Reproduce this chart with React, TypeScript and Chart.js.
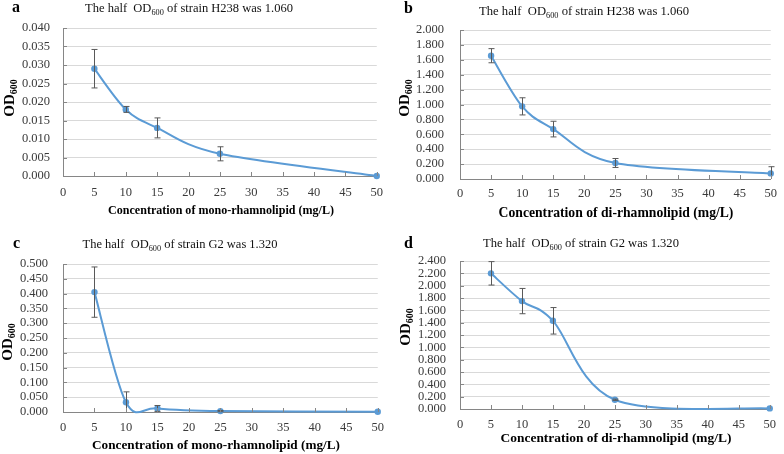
import React, { useEffect, useRef } from 'react';
import { Chart, registerables } from 'chart.js';

Chart.register(...registerables);

// ---------------- data ----------------
const concentrations = [5, 10, 15, 25, 50];

const monoH238 = [0.029, 0.018, 0.013, 0.006, 0.0];
const monoH238Err = [0.0052, 0.0008, 0.0027, 0.0019, 0];
const diH238 = [1.655, 0.975, 0.67, 0.215, 0.075];
const diH238Err = [0.095, 0.115, 0.105, 0.06, 0.09];
const monoG2 = [0.405, 0.033, 0.012, 0.003, 0.001];
const monoG2Err = [0.085, 0.035, 0.01, 0.002, 0];
const diG2 = [2.2, 1.75, 1.43, 0.15, 0.01];
const diG2Err = [0.19, 0.205, 0.215, 0.01, 0];

const panelLetters = ['a', 'b', 'c', 'd'];
const strains = ['H238', 'H238', 'G2', 'G2'];
const halfValues = ['1.060', '1.060', '1.320', '1.320'];
const xAxisTitles = [
  'Concentration of mono-rhamnolipid (mg/L)',
  'Concentration of di-rhamnolipid (mg/L)',
  'Concentration of mono-rhamnolipid (mg/L)',
  'Concentration of di-rhamnolipid (mg/L)',
];
const yAxisTitleMain = 'OD';
const yAxisTitleSub = '600';
const yAxisMax = [0.04, 2.0, 0.5, 2.4];
const yAxisStep = [0.005, 0.2, 0.05, 0.2];
const yTickDecimals = 3;
const xAxisMin = 0;
const xAxisMax = 50;
const xAxisStep = 5;

const seriesValues = [monoH238, diH238, monoG2, diG2];
const seriesErrors = [monoH238Err, diH238Err, monoG2Err, diG2Err];

// ---------------- layout / style ----------------
const W = 392;
const H = 227;
const FONT = "'Liberation Serif', 'Times New Roman', serif";
const LINE_COLOR = '#5b9bd5';
const AXIS_COLOR = '#868686';
const GRID_COLOR = '#d9d9d9';
const TICK_COLOR = '#3a3a3a';
const ERR_COLOR = '#595959';

type Lay = {
  left: number; right: number; top: number; bottom: number;
  yPad: number; xPad: number;
  letter: [number, number];
  title: [number, number, number];
  xTitle: [number, number, number];
  yTitle: [number, number];
};

const LAYOUT: Lay[] = [
  { left: 63, right: 378, top: 28, bottom: 176, yPad: 13, xPad: 9, letter: [12, 8], title: [189, 8, 208], xTitle: [221, 210, 226], yTitle: [9, 98] },
  { left: 68, right: 382, top: 30, bottom: 179, yPad: 16, xPad: 7, letter: [12, 9], title: [192, 11, 210], xTitle: [224, 212, 235], yTitle: [12, 98] },
  { left: 63, right: 379, top: 37, bottom: 185, yPad: 15, xPad: 8, letter: [13, 17], title: [180, 17, 195], xTitle: [216, 218, 248], yTitle: [7, 115] },
  { left: 68, right: 383, top: 34, bottom: 182, yPad: 14, xPad: 8, letter: [12, 17], title: [189, 16, 196], xTitle: [224, 211, 231], yTitle: [13, 100] },
];

type Part = { t: string; sub?: boolean };

function richWidth(ctx: CanvasRenderingContext2D, parts: Part[], size: number, weight: string) {
  let w = 0;
  for (const p of parts) {
    ctx.font = `${weight} ${p.sub ? size * 0.66 : size}px ${FONT}`;
    w += ctx.measureText(p.t).width;
  }
  return w;
}

function drawRich(
  ctx: CanvasRenderingContext2D, parts: Part[], x: number, y: number,
  size: number, weight: string, color: string,
) {
  const w = richWidth(ctx, parts, size, weight);
  let cx = x - w / 2;
  const base = y + size * 0.33;
  ctx.fillStyle = color;
  ctx.textAlign = 'left';
  ctx.textBaseline = 'alphabetic';
  for (const p of parts) {
    const s = p.sub ? size * 0.66 : size;
    ctx.font = `${weight} ${s}px ${FONT}`;
    ctx.fillText(p.t, cx, p.sub ? base + size * 0.2 : base);
    cx += ctx.measureText(p.t).width;
  }
}

function fitSize(ctx: CanvasRenderingContext2D, parts: Part[], weight: string, target: number) {
  const w = richWidth(ctx, parts, 10, weight);
  return (10 * target) / w;
}

// Spreadsheet-style smoothing: Bezier control points from neighbouring points (Catmull-Rom, 1/6).
function applySmoothing(chart: any) {
  const meta = chart.getDatasetMeta(0);
  const pts = meta.data;
  const n = pts.length;
  for (let i = 0; i < n; i++) {
    const p = pts[i];
    const prev = pts[Math.max(0, i - 1)];
    const next = pts[Math.min(n - 1, i + 1)];
    const dx = (next.x - prev.x) / 6;
    const dy = (next.y - prev.y) / 6;
    p.cp1x = p.x - dx;
    p.cp1y = p.y - dy;
    p.cp2x = p.x + dx;
    p.cp2y = p.y + dy;
  }
  if (meta.dataset) {
    meta.dataset._pointsUpdated = true;
    meta.dataset._path = undefined;
  }
}

function makePanelPlugin(idx: number) {
  const L = LAYOUT[idx];
  return {
    id: 'panelDecor' + idx,
    beforeDatasetDraw(chart: any) {
      applySmoothing(chart);
    },
    afterDatasetsDraw(chart: any) {
      const ctx: CanvasRenderingContext2D = chart.ctx;
      const xs = chart.scales.x;
      const ys = chart.scales.y;
      const area = chart.chartArea;
      const vals = seriesValues[idx];
      const errs = seriesErrors[idx];
      ctx.save();
      ctx.strokeStyle = ERR_COLOR;
      ctx.lineWidth = 1;
      concentrations.forEach((c, i) => {
        const e = errs[i];
        if (!e) return;
        const px = Math.round(xs.getPixelForValue(c)) + 0.5;
        const top = Math.max(area.top, ys.getPixelForValue(vals[i] + e));
        const bot = Math.min(area.bottom, ys.getPixelForValue(vals[i] - e));
        ctx.beginPath();
        ctx.moveTo(px, top);
        ctx.lineTo(px, bot);
        ctx.moveTo(px - 3, top);
        ctx.lineTo(px + 3, top);
        if (bot < area.bottom) {
          ctx.moveTo(px - 3, bot);
          ctx.lineTo(px + 3, bot);
        }
        ctx.stroke();
      });
      ctx.restore();
    },
    afterDraw(chart: any) {
      const ctx: CanvasRenderingContext2D = chart.ctx;
      const xs = chart.scales.x;
      const ys = chart.scales.y;
      const area = chart.chartArea;
      ctx.save();
      // inside tick marks
      ctx.strokeStyle = AXIS_COLOR;
      ctx.lineWidth = 1;
      ctx.beginPath();
      ys.ticks.forEach((t: any) => {
        const py = Math.round(ys.getPixelForValue(t.value)) + 0.5;
        ctx.moveTo(area.left, py);
        ctx.lineTo(area.left + 4, py);
      });
      xs.ticks.forEach((t: any) => {
        const px = Math.round(xs.getPixelForValue(t.value)) + 0.5;
        ctx.moveTo(px, area.bottom);
        ctx.lineTo(px, area.bottom - 4);
      });
      ctx.stroke();

      // panel letter
      ctx.fillStyle = '#000';
      ctx.font = `bold 16px ${FONT}`;
      ctx.textAlign = 'left';
      ctx.textBaseline = 'middle';
      ctx.fillText(panelLetters[idx], L.letter[0], L.letter[1]);

      // title
      const titleParts: Part[] = [
        { t: 'The half  OD' },
        { t: '600', sub: true },
        { t: ` of strain ${strains[idx]} was ${halfValues[idx]}` },
      ];
      const ts = fitSize(ctx, titleParts, 'normal', L.title[2]);
      drawRich(ctx, titleParts, L.title[0], L.title[1], ts, 'normal', '#111');

      // x axis title
      const xParts: Part[] = [{ t: xAxisTitles[idx] }];
      const xsz = fitSize(ctx, xParts, 'bold', L.xTitle[2]);
      drawRich(ctx, xParts, L.xTitle[0], L.xTitle[1], xsz, 'bold', '#000');

      // y axis title
      ctx.translate(L.yTitle[0], L.yTitle[1]);
      ctx.rotate(-Math.PI / 2);
      drawRich(ctx, [{ t: yAxisTitleMain }, { t: yAxisTitleSub, sub: true }], 0, 0, 15, 'bold', '#000');
      ctx.restore();
    },
  };
}

function Panel({ idx }: { idx: number }) {
  const ref = useRef<HTMLCanvasElement>(null);
  useEffect(() => {
    const L = LAYOUT[idx];
    const canvas = ref.current;
    if (!canvas) return;
    const chart = new Chart(canvas, {
      type: 'line',
      data: {
        datasets: [
          {
            data: concentrations.map((x, i) => ({ x, y: seriesValues[idx][i] })),
            borderColor: LINE_COLOR,
            backgroundColor: LINE_COLOR,
            borderWidth: 2,
            pointRadius: 3.2,
            pointBackgroundColor: LINE_COLOR,
            pointBorderColor: LINE_COLOR,
            pointBorderWidth: 0,
            tension: 0.4,
            cubicInterpolationMode: 'default',
            clip: false as any,
          },
        ],
      },
      options: {
        responsive: false,
        animation: false,
        devicePixelRatio: 1,
        layout: { padding: { left: 0, top: L.top, right: W - L.right, bottom: 0 } },
        plugins: {
          legend: { display: false },
          tooltip: { enabled: false },
          title: { display: false },
        },
        scales: {
          x: {
            type: 'linear',
            min: xAxisMin,
            max: xAxisMax,
            ticks: {
              stepSize: xAxisStep,
              autoSkip: false,
              maxRotation: 0,
              padding: L.xPad,
              color: TICK_COLOR,
              font: { family: FONT, size: 12.5 },
            },
            grid: { display: false, drawTicks: false },
            border: { display: true, color: AXIS_COLOR, width: 1 },
            afterFit: (s: any) => { s.height = H - L.bottom; },
          },
          y: {
            min: 0,
            max: yAxisMax[idx],
            ticks: {
              stepSize: yAxisStep[idx],
              autoSkip: false,
              padding: L.yPad,
              color: TICK_COLOR,
              font: { family: FONT, size: 12.5 },
              callback: (v: any) => Number(v).toFixed(yTickDecimals),
            },
            grid: { color: GRID_COLOR, drawTicks: false, lineWidth: 1 },
            border: { display: true, color: AXIS_COLOR, width: 1 },
            afterFit: (s: any) => { s.width = L.left; },
          },
        },
      } as any,
      plugins: [makePanelPlugin(idx)],
    });
    return () => chart.destroy();
  }, [idx]);
  return (
    <canvas
      ref={ref}
      width={W}
      height={H}
      style={{
        position: 'absolute',
        left: (idx % 2) * W,
        top: Math.floor(idx / 2) * H,
        width: W,
        height: H,
      }}
    />
  );
}

export default function App() {
  return (
    <div style={{ position: 'fixed', left: 0, top: 0, width: 2 * W, height: 2 * H, background: '#fff' }}>
      {[0, 1, 2, 3].map((i) => (
        <Panel key={i} idx={i} />
      ))}
    </div>
  );
}
